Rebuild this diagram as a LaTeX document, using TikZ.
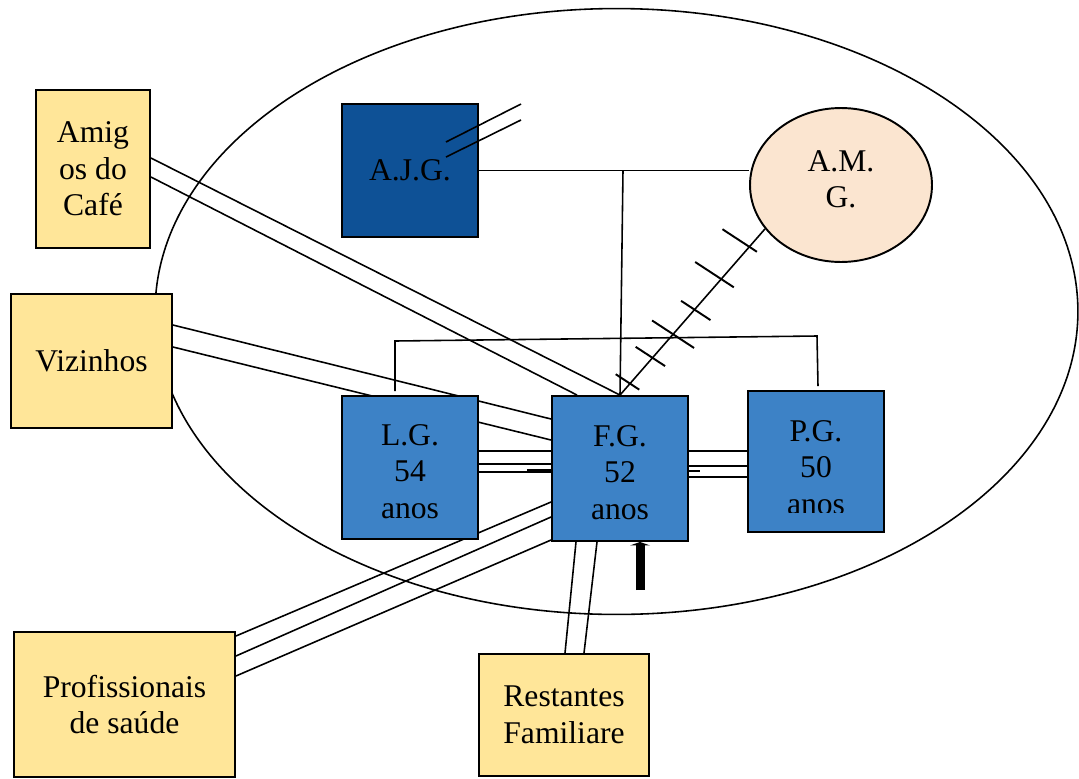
\documentclass[tikz,border=0pt]{standalone}
\usepackage{fontspec}
\setmainfont{Liberation Serif}
\usetikzlibrary{calc}
\usetikzlibrary{arrows.meta}
\usetikzlibrary{backgrounds}
\usetikzlibrary{shapes.geometric}
\usepackage{xcolor}
\definecolor{extyellow}{HTML}{FFE699}
\definecolor{famblue}{HTML}{3D82C6}
\definecolor{darkblue}{HTML}{0E5196}
\definecolor{peach}{HTML}{FBE5D0}
\newcommand{\boxfont}{\fontsize{18}{20.8}\selectfont}

\begin{document}
\begin{tikzpicture}[x=.02cm, y=-.02cm,
 fam/.style={draw, line width=1.1pt, fill=famblue, inner sep=0, align=center, font=\boxfont, minimum width=2.72cm},
 ext/.style={draw, line width=1.1pt, fill=extyellow, inner sep=0, align=center, font=\boxfont},
 tie/.style={black, line width=.9pt}]
\useasboundingbox (0,0) rectangle (1079,778);
\node[ext, minimum width=2.28cm, minimum height=3.16cm] (amigos) at (93,169) {Amig\\os do\\Café};
\node[ext, minimum width=3.22cm, minimum height=2.68cm] (vizinhos) at (91.5,361) {Vizinhos};
\node[ext, minimum width=4.42cm, minimum height=2.9cm] (prof) at (124.5,704.5) {Profissionais\\de saúde};
\node[ext, minimum width=3.4cm, minimum height=2.44cm] (rest) at (564,715) {Restantes\\Familiare};
\node[fam, fill=darkblue, minimum height=2.66cm] (ajg) at (410,170.5) {A.J.G.};
\node[draw, ellipse, line width=1.1pt, fill=peach, minimum width=3.64cm, minimum height=3.08cm, inner sep=0, align=center, font=\boxfont, text depth=7pt] (amg) at (841,185) {A.M.\\G.};
\node[fam, minimum height=2.86cm, text height=58pt] (lg) at (410,467.5) {L.G.\\54\\anos};
\node[fam, minimum height=2.9cm, text height=58pt] (fg) at (620,468.5) {F.G.\\52\\anos};
\node[fam, minimum height=2.82cm] (pg) at (816,461.5) {};
\begin{scope}
\clip (pg.north west) rectangle (884,512);
\node[align=center, font=\boxfont, inner sep=0] (pgtext) at (816,467.5) {P.G.\\50\\anos};
\end{scope}

\begin{scope}[on background layer]
\draw[tie] (616.5,311.5) ellipse [x radius=9.23cm, y radius=6.06cm];
\draw[tie] (ajg.east) -- (ajg.east -| amg.west);
\coordinate (split) at (623,170.5);
\draw[tie] (split) -- (fg.north);
\coordinate (brl) at (395,341);
\coordinate (brr) at (817,336);
\draw[tie] ($(lg.north)+(-15,-4)$) -- (brl) -- (brr) -- ($(pg.north)+(2,-4)$);
\draw[tie] (fg.north) -- (amg.210);
\foreach \t/\a/\b in {.069/17/11,.224/20/15,.366/25/25,.514/16/19,.698/31/15,.892/32/9}
 \draw[tie, line width=1.1pt] ($(fg.north)!\t!(amg.210)$) +({-.84*\a},{-.55*\a}) -- +({.84*\b},{.55*\b});
\draw[tie] ($(amigos.east)+(0,-11)$) -- (fg.north);
\draw[tie] ($(amigos.east)+(0,8)$) -- ($(fg.north)+(-43,0)$);
\draw[tie] ($(vizinhos.east)+(0,-36)$) -- ($(fg.west)+(0,-49.5)$);
\draw[tie] ($(vizinhos.east)+(0,-14)$) -- ($(fg.west)+(0,-28.5)$);
\foreach \a/\b in {-16.5/-17.5,-3.5/-4.5,4.5/3.5}
 \draw[tie] ($(lg.east)+(0,\a)$) -- ($(fg.west)+(0,\b)$);
\draw[tie] ($(fg.west)+(-24,1.5)$) -- ($(fg.west)+(0,1.5)$);
\foreach \a/\b in {-17.5/-10.5,-2.5/4.5,8.5/15.5}
 \draw[tie] ($(fg.east)+(0,\a)$) -- ($(pg.west)+(0,\b)$);
\draw[tie] ($(fg.east)+(0,2.5)$) -- +(11,0);
\foreach \a/\b in {-68.5/33.5,-48.5/48.5,-28.5/71.5}
 \draw[tie] ($(prof.east)+(0,\a)$) -- ($(fg.west)+(0,\b)$);
\draw[tie] ($(rest.north)+(1,0)$) -- ($(fg.south)+(-44,0)$);
\draw[tie] ($(rest.north)+(20,0)$) -- ($(fg.south)+(-23,0)$);
\end{scope}

\draw[tie] ($(ajg.center)+(36,-28.5)$) -- +(75,-38);
\draw[tie] ($(ajg.center)+(36,-13.5)$) -- +(75,-37);
\coordinate (push) at (640,590);
\draw[line width=.18cm, -{Triangle[length=.07cm, width=.4cm, line width=0pt]}] (push) -- (push |- fg.south);
\end{tikzpicture}
\end{document}
